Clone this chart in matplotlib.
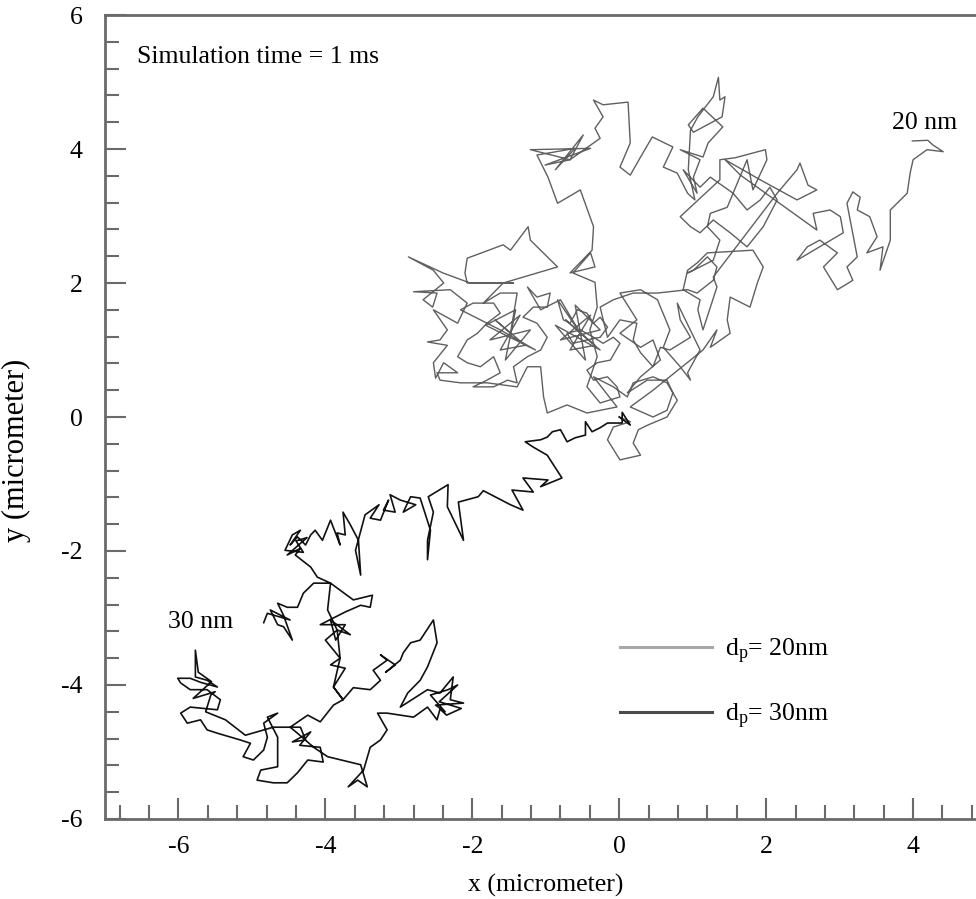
import matplotlib
matplotlib.use('Agg')
import matplotlib.pyplot as plt
from matplotlib.lines import Line2D
from matplotlib.ticker import MultipleLocator

plt.rcParams['font.family'] = ['Liberation Serif', 'DejaVu Serif']
plt.rcParams['mathtext.fontset'] = 'custom'
plt.rcParams['mathtext.rm'] = 'Liberation Serif'
plt.rcParams['mathtext.it'] = 'Liberation Serif:italic'
plt.rcParams['axes.unicode_minus'] = False

# particle trajectory, dp = 20 nm (micrometer), ten steps per line
x20 = [0.00, 0.15, -0.08, -0.16, 0.01, 0.29, 0.19, 0.26, 0.39, 0.65,
       0.79, 0.65, 0.46, 0.19, 0.11, -0.08, -0.35, -0.03, -0.44, -0.71,
       -0.98, -1.03, -1.07, -1.25, -1.39, -1.80, -2.16, -2.44, -2.48, -2.20,
       -2.39, -2.50, -2.53, -2.34, -2.61, -2.44, -2.34, -2.53, -2.20, -2.07,
       -2.30, -2.80, -2.48, -2.54, -2.67, -2.39, -2.53, -2.87, -2.40, -2.03,
       -1.62, -1.44, -2.07, -2.10, -2.07, -1.58, -1.48, -1.24, -1.21, -0.98,
       -0.84, -1.58, -1.85, -1.62, -1.39, -1.48, -1.69, -1.28, -1.62, -1.35,
       -1.76, -1.21, -1.55, -1.41, -1.82, -1.14, -1.62, -2.16, -1.99, -1.71,
       -1.62, -1.80, -1.93, -2.07, -2.20, -2.07, -1.89, -1.71, -1.62, -1.80,
       -1.99, -1.71, -1.52, -1.39, -1.44, -1.25, -1.07, -0.98, -1.12, -1.31,
       -1.17, -0.98, -0.94, -1.12, -1.25, -1.07, -0.80, -0.53, -0.73, -0.33,
       -0.67, -0.39, -0.80, -0.26, -0.60, -0.46, -0.87, -0.26, -0.53, -0.84,
       -0.76, -0.67, -0.57, -0.44, -0.35, -0.26, -0.16, -0.26, -0.44, -0.63,
       -0.71, -0.53, -0.35, -0.22, -0.08, 0.01, -0.12, -0.30, -0.44, -0.35,
       -0.16, -0.03, 0.01, -0.26, -0.44, -0.30, -0.40, -0.30, -0.33, -0.63,
       -0.39, -0.33, -0.67, -0.37, -0.35, -0.53, -0.84, -0.97, -1.12, -0.60,
       -0.87, -0.49, -0.67, -1.01, -0.39, -1.21, -0.67, -0.26, -0.33, -0.22,
       -0.35, -0.22, 0.12, 0.15, 0.01, 0.15, 0.29, 0.45, 0.73, 0.60,
       0.79, 0.93, 1.03, 0.94, 0.97, 1.07, 1.28, 1.35, 1.37, 1.44,
       1.40, 1.01, 0.94, 1.14, 1.41, 1.21, 1.14, 0.83, 1.10, 1.01,
       1.06, 0.87, 1.10, 1.24, 1.55, 1.74, 1.92, 2.05, 2.15, 1.96,
       1.74, 1.51, 1.28, 1.10, 0.97, 0.83, 1.37, 1.37, 1.58, 1.99,
       2.01, 1.82, 1.74, 1.47, 1.24, 1.20, 1.37, 1.28, 1.10, 0.93,
       1.01, 1.20, 1.33, 1.28, 1.06, 0.93, 0.52, 0.19, -0.08, -0.26,
       -0.16, 0.01, 0.24, 0.19, 0.29, 0.46, 0.56, 0.69, 0.97, 0.83,
       0.79, 1.10, 0.93, 0.97, 0.83, 0.60, 0.69, 0.52, 0.29, 0.01,
       0.24, 0.01, 0.29, 0.46, 0.56, 0.29, 0.11, 0.38, 0.65, 0.73,
       0.65, 0.46, 0.15, 0.46, 0.97, 1.14, 1.33, 1.24, 1.51, 1.47,
       1.51, 1.78, 1.88, 1.96, 1.82, 1.20, 1.06, 0.93, 0.87, 1.10,
       1.07, 1.14, 1.33, 1.28, 2.15, 2.42, 2.46, 2.57, 2.69, 2.42,
       1.92, 1.44, 1.65, 2.69, 2.64, 2.87, 3.01, 3.05, 2.42, 2.56,
       2.73, 2.97, 2.78, 2.97, 3.18, 3.10, 3.24, 3.10, 3.18, 3.28,
       3.24, 3.41, 3.51, 3.37, 3.59, 3.55, 3.69, 3.69, 3.92, 3.96,
       4.00, 4.19, 4.41, 4.27, 4.20, 3.99]
y20 = [0.00, -0.07, -0.15, -0.34, -0.64, -0.57, -0.39, -0.19, -0.12, 0.00,
       0.25, 0.51, 0.60, 0.51, 0.30, 0.45, 0.60, 0.15, 0.06, 0.18,
       0.06, 0.30, 0.75, 0.75, 0.45, 0.51, 0.51, 0.55, 0.66, 0.66,
       0.81, 0.58, 0.81, 1.07, 1.12, 1.15, 1.30, 1.60, 1.40, 1.70,
       1.90, 1.87, 1.85, 1.64, 1.75, 2.00, 2.19, 2.39, 2.15, 2.00,
       2.00, 2.00, 2.00, 2.15, 2.37, 2.57, 2.49, 2.84, 2.64, 2.39,
       2.24, 2.00, 1.70, 1.85, 1.85, 1.25, 1.45, 1.07, 1.00, 1.52,
       1.15, 1.30, 0.85, 1.60, 1.37, 1.00, 1.30, 1.60, 1.70, 1.70,
       1.55, 1.40, 1.25, 1.15, 0.90, 0.81, 0.75, 0.90, 0.66, 0.55,
       0.45, 0.45, 0.55, 0.51, 0.75, 0.90, 1.00, 1.19, 1.40, 1.49,
       1.64, 1.64, 1.85, 1.79, 1.94, 1.60, 1.75, 1.25, 1.45, 1.07,
       1.00, 1.52, 1.15, 1.30, 1.67, 0.85, 1.37, 1.00, 1.25, 1.75,
       1.45, 1.40, 1.60, 1.55, 1.40, 1.49, 1.34, 1.19, 1.15, 1.10,
       1.25, 1.30, 1.19, 1.10, 1.19, 1.10, 0.85, 0.81, 0.70, 0.55,
       0.60, 0.45, 0.30, 0.21, 0.45, 0.90, 1.30, 1.64, 2.01, 2.15,
       2.45, 2.24, 2.15, 2.49, 2.84, 3.39, 3.19, 3.58, 3.91, 4.01,
       3.69, 4.21, 3.84, 3.76, 4.01, 3.99, 3.84, 4.16, 4.31, 4.48,
       4.73, 4.66, 4.70, 4.09, 3.73, 3.61, 3.88, 4.18, 4.03, 3.73,
       3.64, 3.34, 3.24, 3.69, 4.28, 4.48, 4.78, 5.07, 4.73, 4.78,
       4.48, 4.25, 4.36, 4.61, 4.33, 4.09, 3.88, 3.99, 3.84, 3.58,
       3.34, 3.69, 3.43, 3.58, 3.34, 3.09, 3.24, 3.43, 3.24, 2.84,
       2.54, 2.75, 2.94, 2.75, 2.84, 2.99, 3.54, 3.84, 3.87, 3.99,
       3.84, 3.39, 3.84, 3.13, 3.04, 2.84, 2.64, 2.34, 2.24, 2.15,
       2.19, 2.39, 2.24, 2.04, 1.85, 1.90, 1.85, 1.85, 1.75, 1.64,
       1.19, 1.45, 1.40, 1.15, 0.96, 0.75, 1.04, 1.00, 1.19, 1.45,
       1.70, 1.00, 0.66, 0.55, 0.75, 1.04, 1.30, 1.75, 1.90, 1.85,
       1.45, 1.25, 1.04, 1.15, 0.85, 0.60, 0.36, 0.55, 0.55, 0.36,
       0.10, 0.00, 0.15, 0.40, 0.85, 1.00, 1.30, 1.04, 1.25, 1.45,
       1.79, 1.64, 2.00, 2.24, 2.49, 2.45, 2.30, 2.19, 1.90, 1.75,
       1.60, 1.30, 1.94, 2.09, 3.34, 3.69, 3.79, 3.46, 3.39, 3.24,
       3.54, 3.84, 3.61, 2.79, 3.04, 3.09, 2.99, 2.75, 2.34, 2.54,
       2.64, 2.45, 2.24, 1.90, 2.04, 2.24, 2.39, 3.19, 3.36, 3.28,
       3.09, 2.99, 2.69, 2.45, 2.54, 2.19, 2.64, 3.09, 3.34, 3.64,
       3.84, 3.99, 3.96, 4.06, 4.13, 4.12]

# particle trajectory, dp = 30 nm (micrometer), ten steps per line
x30 = [0.00, 0.15, 0.04, 0.04, -0.16, -0.26, -0.37, -0.46, -0.46, -0.60,
       -0.71, -0.80, -0.91, -0.98, -1.07, -1.28, -1.17, -0.98, -0.78, -1.07,
       -0.97, -1.31, -1.17, -1.46, -1.31, -1.48, -1.85, -1.92, -2.19, -2.12,
       -2.34, -2.33, -2.60, -2.53, -2.61, -2.61, -2.57, -2.71, -2.84, -2.94,
       -2.77, -2.98, -3.12, -3.05, -3.21, -3.14, -3.25, -3.39, -3.27, -3.46,
       -3.59, -3.52, -3.55, -3.66, -3.76, -3.73, -3.84, -3.80, -3.93, -4.04,
       -4.14, -4.20, -4.27, -4.38, -4.48, -4.34, -4.45, -4.55, -4.30, -4.40,
       -4.25, -4.52, -4.34, -4.41, -4.20, -4.11, -3.93, -3.62, -3.36, -3.39,
       -3.52, -3.73, -4.07, -3.73, -3.86, -3.93, -3.66, -3.84, -4.00, -3.80,
       -3.93, -3.73, -3.89, -3.76, -3.62, -3.39, -3.25, -3.35, -3.16, -3.25,
       -3.05, -3.18, -2.98, -2.94, -2.84, -2.71, -2.53, -2.48, -2.61, -2.71,
       -2.88, -2.98, -2.61, -2.44, -2.26, -2.30, -2.12, -2.50, -2.37, -2.57,
       -2.33, -2.20, -2.45, -2.15, -2.35, -2.44, -2.48, -2.61, -2.80, -3.16,
       -3.29, -3.16, -3.25, -3.39, -3.48, -3.69, -3.56, -3.43, -3.52, -3.97,
       -4.16, -4.38, -4.48, -4.34, -4.27, -4.45, -4.20, -4.35, -4.07, -4.03,
       -4.24, -4.38, -4.52, -4.71, -4.93, -4.88, -4.65, -4.65, -4.79, -4.65,
       -4.84, -4.79, -4.84, -4.98, -5.12, -5.02, -5.16, -5.47, -5.61, -5.70,
       -5.88, -5.97, -5.84, -5.47, -5.43, -5.61, -5.84, -5.97, -6.01, -5.84,
       -5.70, -5.47, -5.61, -5.77, -5.77, -5.73, -5.55, -5.80, -5.50, -5.56,
       -5.63, -5.36, -5.09, -4.71, -4.48, -4.24, -4.07, -3.89, -3.76, -3.89,
       -3.80, -3.84, -3.97, -3.93, -4.16, -4.30, -4.38, -4.52, -4.65, -4.57,
       -4.45, -4.57, -4.65, -4.75, -4.48, -4.79, -4.84]
y30 = [0.00, -0.12, 0.07, -0.09, -0.09, -0.16, -0.22, -0.07, -0.27, -0.31,
       -0.37, -0.19, -0.22, -0.30, -0.34, -0.37, -0.45, -0.57, -0.91, -1.04,
       -0.94, -0.91, -1.12, -1.09, -1.39, -1.31, -1.10, -1.19, -1.27, -1.84,
       -1.34, -1.01, -1.19, -1.42, -1.84, -2.13, -1.69, -1.21, -1.19, -1.42,
       -1.31, -1.24, -1.16, -1.42, -1.39, -1.24, -1.54, -1.51, -1.31, -1.46,
       -1.99, -2.36, -1.84, -1.61, -1.42, -1.76, -1.73, -1.91, -1.54, -1.84,
       -1.69, -1.76, -1.91, -1.79, -1.91, -1.69, -1.76, -1.99, -2.02, -1.85,
       -1.80, -2.06, -1.96, -2.06, -2.24, -2.39, -2.48, -2.73, -2.66, -2.84,
       -2.81, -2.91, -3.10, -3.10, -3.33, -3.03, -3.25, -3.18, -3.33, -3.60,
       -3.70, -3.75, -4.03, -4.22, -4.04, -4.07, -3.93, -3.78, -3.63, -3.55,
       -3.70, -3.81, -3.63, -3.52, -3.37, -3.33, -3.03, -3.37, -3.73, -3.93,
       -4.12, -4.33, -4.07, -4.12, -3.88, -4.22, -4.27, -4.30, -4.40, -4.15,
       -4.07, -4.00, -4.25, -4.35, -4.45, -4.36, -4.52, -4.33, -4.48, -4.42,
       -4.42, -4.67, -4.82, -4.93, -5.27, -5.52, -5.42, -5.52, -5.19, -5.07,
       -4.93, -4.72, -4.63, -4.63, -4.82, -4.85, -4.70, -4.90, -4.93, -5.15,
       -5.12, -5.31, -5.46, -5.46, -5.42, -5.27, -5.22, -4.78, -4.48, -4.42,
       -4.57, -4.78, -4.97, -5.12, -5.07, -4.87, -4.82, -4.72, -4.67, -4.52,
       -4.57, -4.42, -4.33, -4.37, -4.22, -4.07, -4.07, -3.97, -3.90, -3.90,
       -3.96, -4.03, -3.93, -3.88, -3.48, -3.81, -3.95, -4.20, -4.10, -4.15,
       -4.40, -4.52, -4.75, -4.63, -4.63, -4.45, -4.55, -4.30, -4.22, -4.03,
       -3.60, -3.18, -2.88, -2.48, -2.48, -2.63, -2.84, -2.84, -2.78, -2.96,
       -3.33, -3.13, -3.10, -2.88, -3.03, -2.93, -3.07]

fig = plt.figure(figsize=(9.76, 8.99), dpi=100)
ax = fig.add_axes([0.1076, 0.089, 0.9032, 0.8943])

ax.plot(x20, y20, color='#606060', lw=1.0)
ax.plot(x30, y30, color='#111111', lw=1.2)

ax.set_xlim(-7, 5)
ax.set_ylim(-6, 6)
ax.xaxis.set_major_locator(MultipleLocator(2))
ax.xaxis.set_minor_locator(MultipleLocator(0.4))
ax.yaxis.set_major_locator(MultipleLocator(2))
ax.yaxis.set_minor_locator(MultipleLocator(0.4))

for side in ['top', 'left', 'bottom']:
    ax.spines[side].set_color('#6a6a6a')
    ax.spines[side].set_linewidth(2)
ax.spines['right'].set_visible(False)

ax.tick_params(which='both', direction='in', color='#6a6a6a', width=1.5, top=False, right=False)
ax.tick_params(which='major', length=15, labelsize=18.5)
ax.tick_params(axis='x', which='major', pad=12)
ax.tick_params(axis='y', which='major', pad=16)
ax.tick_params(which='minor', length=10)

ax.set_xlabel('x (micrometer)', fontsize=18.5, labelpad=12)
ax.set_ylabel('y (micrometer)', fontsize=22)
ax.yaxis.set_label_coords(-0.084, 0.458)

ax.text(0.036, 0.948, 'Simulation time = 1 ms', transform=ax.transAxes, fontsize=18.5, va='center')
ax.text(4.15, 4.39, '20 nm', fontsize=18.5, ha='center', va='center')
ax.text(-5.70, -3.06, '30 nm', fontsize=18.5, ha='center', va='center')

handles = [Line2D([], [], color='#a8a8a8', lw=2.2), Line2D([], [], color='#4a4a4a', lw=2.2)]
ax.legend(handles, [r'd$_{\rm p}$= 20nm', r'd$_{\rm p}$= 30nm'], loc='upper left',
          bbox_to_anchor=(0.584, 0.227), frameon=False, fontsize=18.5, handlelength=3.6,
          handletextpad=0.5, labelspacing=1.4, borderpad=0, borderaxespad=0)

fig.savefig('out.png', dpi=100)
